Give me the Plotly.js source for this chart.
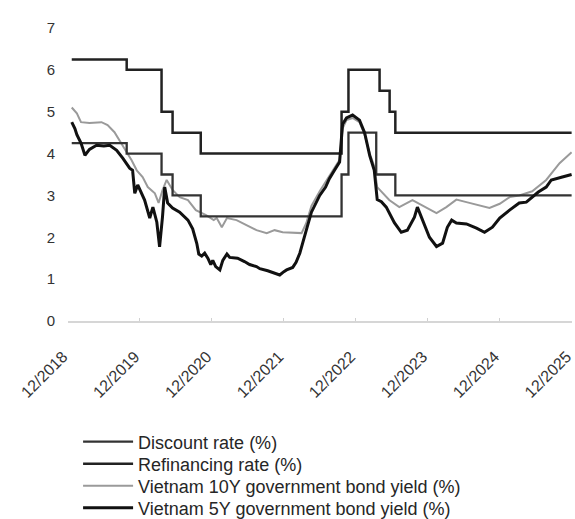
<!DOCTYPE html>
<html>
<head>
<meta charset="utf-8">
<script src="https://cdn.plot.ly/plotly-3.0.1.min.js"></script>
<style>html,body{margin:0;padding:0;background:#fff;}#chart{width:575px;height:519px;}</style>
</head>
<body>
<div id="chart"></div>
<script>
// Policy rates (step series)
const refiDates = ['2018-12-20','2019-09-25','2020-03-20','2020-05-15','2020-10-05','2022-09-20','2022-10-25','2023-04-01','2023-05-22','2023-06-20','2025-12-01'];
const refiRate  = [6.25, 6.0, 5.0, 4.5, 4.0, 5.0, 6.0, 5.5, 5.0, 4.5, 4.5];

const discDates = ['2018-12-20','2019-09-25','2020-03-20','2020-05-15','2020-10-05','2022-09-20','2022-10-25','2023-03-15','2023-06-20','2025-12-01'];
const discRate  = [4.25, 4.0, 3.5, 3.0, 2.5, 3.5, 4.5, 3.5, 3.0, 3.0];

// Vietnam 5Y government bond yield
const y5Dates = ['2018-12-20','2019-01-05','2019-01-15','2019-02-05','2019-02-25','2019-03-20','2019-04-25','2019-06-01','2019-07-01','2019-08-05','2019-09-05','2019-10-10','2019-10-25','2019-11-05','2019-11-20','2019-12-01','2019-12-25','2020-01-20','2020-02-05','2020-02-25','2020-03-10','2020-03-25','2020-04-05','2020-04-20','2020-05-15','2020-06-20','2020-08-01','2020-08-25','2020-09-15','2020-09-25','2020-10-10','2020-10-25','2020-11-10','2020-11-25','2020-12-05','2020-12-20','2021-01-10','2021-01-25','2021-02-15','2021-03-01','2021-04-10','2021-05-15','2021-06-10','2021-07-15','2021-08-01','2021-09-10','2021-10-15','2021-11-10','2021-12-01','2021-12-15','2022-01-15','2022-02-01','2022-02-20','2022-03-10','2022-03-25','2022-04-20','2022-05-10','2022-06-01','2022-07-01','2022-07-20','2022-08-15','2022-09-10','2022-09-25','2022-10-15','2022-11-15','2022-12-20','2023-01-15','2023-02-10','2023-03-05','2023-03-20','2023-04-10','2023-05-05','2023-06-15','2023-07-20','2023-08-20','2023-09-25','2023-10-10','2023-11-05','2023-12-10','2024-01-15','2024-02-15','2024-03-10','2024-04-01','2024-04-25','2024-06-15','2024-08-05','2024-09-15','2024-10-25','2024-12-01','2025-01-20','2025-03-10','2025-04-15','2025-05-15','2025-06-15','2025-07-25','2025-08-20','2025-10-15','2025-12-01'];
const y5Yield = [4.75,4.6,4.45,4.25,3.96,4.1,4.2,4.18,4.2,4.08,3.89,3.65,3.6,3.05,3.25,3.13,2.89,2.46,2.72,2.36,1.77,2.5,3.2,2.82,2.7,2.6,2.41,2.2,1.85,1.6,1.55,1.62,1.5,1.35,1.45,1.3,1.22,1.45,1.6,1.52,1.5,1.42,1.35,1.3,1.25,1.2,1.15,1.1,1.18,1.22,1.28,1.4,1.62,1.95,2.17,2.6,2.8,3.0,3.2,3.4,3.6,3.8,4.7,4.85,4.92,4.8,4.5,3.95,3.6,2.9,2.85,2.72,2.35,2.12,2.17,2.48,2.72,2.4,2.0,1.78,1.86,2.24,2.41,2.34,2.32,2.22,2.12,2.24,2.46,2.65,2.82,2.84,2.96,3.08,3.2,3.37,3.44,3.5];

// Vietnam 10Y government bond yield
const y10Dates = ['2018-12-20','2019-01-15','2019-02-05','2019-03-20','2019-05-20','2019-06-20','2019-07-25','2019-08-20','2019-09-25','2019-10-20','2019-11-15','2019-12-15','2020-01-10','2020-02-15','2020-03-05','2020-03-25','2020-04-15','2020-05-15','2020-06-20','2020-08-01','2020-09-10','2020-11-01','2020-12-10','2020-12-25','2021-01-20','2021-02-15','2021-04-05','2021-05-25','2021-07-15','2021-09-05','2021-10-15','2021-11-25','2022-01-15','2022-03-01','2022-03-25','2022-04-20','2022-06-01','2022-07-20','2022-09-10','2022-09-25','2022-10-15','2022-11-15','2022-12-20','2023-01-15','2023-02-10','2023-03-05','2023-03-20','2023-05-20','2023-07-10','2023-09-15','2023-11-25','2024-01-15','2024-03-05','2024-04-25','2024-06-15','2024-08-20','2024-10-10','2024-12-01','2025-01-20','2025-03-10','2025-05-15','2025-07-25','2025-10-01','2025-12-01'];
const y10Yield = [5.1,4.96,4.75,4.73,4.75,4.68,4.51,4.32,4.03,3.84,3.6,3.44,3.2,3.05,2.82,3.13,3.37,3.13,2.96,2.89,2.65,2.53,2.41,2.46,2.24,2.46,2.41,2.29,2.17,2.1,2.17,2.12,2.1,2.1,2.34,2.75,3.1,3.45,3.85,4.6,4.8,4.85,4.75,4.45,4.0,3.7,3.2,2.89,2.72,2.89,2.72,2.58,2.72,2.9,2.84,2.77,2.7,2.8,2.96,3.0,3.1,3.37,3.77,4.03];

// Axis ticks
const tickDates = ['2018-12-01','2019-12-01','2020-12-01','2021-12-01','2022-12-01','2023-12-01','2024-12-01','2025-12-01'];
const tickLabels = ['12/2018','12/2019','12/2020','12/2021','12/2022','12/2023','12/2024','12/2025'];
const yTicks = [0,1,2,3,4,5,6,7];

const traces = [
  {x: y10Dates, y: y10Yield, name: 'Vietnam 10Y government bond yield (%)', mode: 'lines',
   line: {color: '#9a9a9a', width: 2}, legend: 'legend3'},
  {x: discDates, y: discRate, name: 'Discount rate (%)', mode: 'lines',
   line: {color: '#333333', width: 2.3, shape: 'hv'}, legend: 'legend'},
  {x: refiDates, y: refiRate, name: 'Refinancing rate (%)', mode: 'lines',
   line: {color: '#222222', width: 2.5, shape: 'hv'}, legend: 'legend2'},
  {x: y5Dates, y: y5Yield, name: 'Vietnam 5Y government bond yield (%)', mode: 'lines',
   line: {color: '#111111', width: 3}, legend: 'legend4'}
];

function legendAt(yc) {
  return {orientation: 'v', x: 0.02, xanchor: 'left', xref: 'paper', y: yc, yanchor: 'middle', yref: 'container',
          font: {size: 18, color: '#262626'}, itemwidth: 50, bgcolor: 'rgba(0,0,0,0)'};
}

const layout = {
  width: 575, height: 519,
  margin: {l: 68, r: 3, t: 28, b: 198},
  paper_bgcolor: '#ffffff', plot_bgcolor: '#ffffff',
  font: {family: 'Liberation Sans, Arial, sans-serif', color: '#333333'},
  showlegend: true,
  legend: legendAt(1 - 442 / 519),
  legend2: legendAt(1 - 464 / 519),
  legend3: legendAt(1 - 486 / 519),
  legend4: legendAt(1 - 508 / 519),
  xaxis: {type: 'date', range: ['2018-12-01','2025-12-03'], tickvals: tickDates, ticktext: tickLabels,
          tickangle: -45, tickfont: {size: 16, color: '#333333'}, showgrid: false, zeroline: false,
          showline: true, linecolor: '#d6d6d6', linewidth: 2, ticks: 'inside', ticklen: 3, tickcolor: '#d0d0d0',
          ticklabelstandoff: 18, ticklabelshift: -5, ticklabeloverflow: 'allow', automargin: false, fixedrange: true},
  yaxis: {range: [0, 7], tickvals: yTicks, tickfont: {size: 15, color: '#333333'}, showgrid: false,
          zeroline: false, showline: false, ticks: '', ticklabelstandoff: 12, automargin: false, fixedrange: true}
};

Plotly.newPlot('chart', traces, layout, {staticPlot: true, displayModeBar: false});
</script>
</body>
</html>
